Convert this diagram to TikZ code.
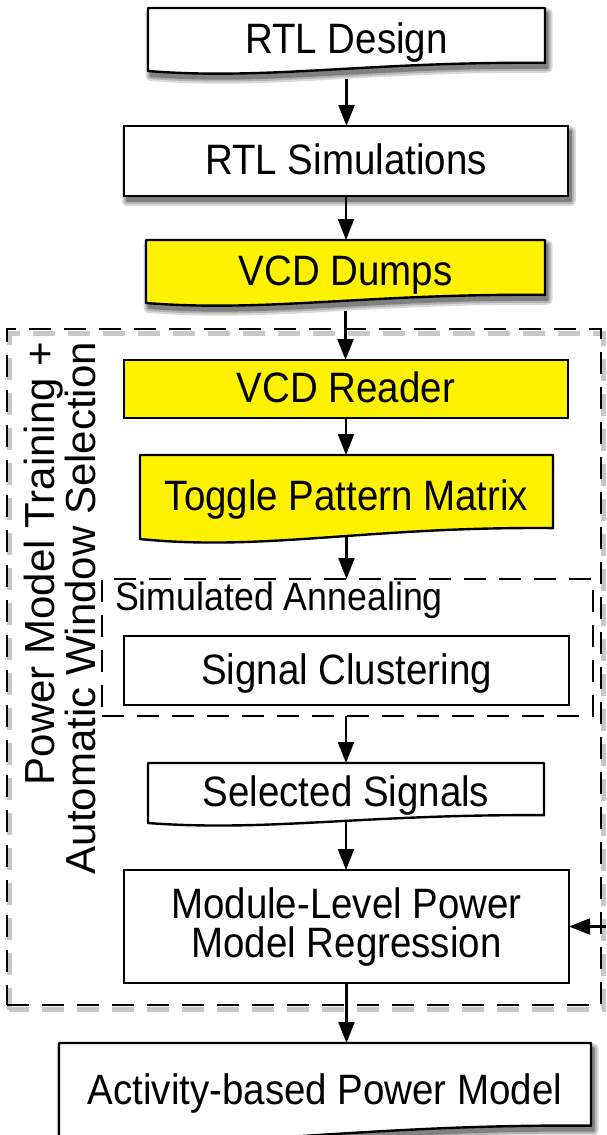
\documentclass[tikz,border=0pt]{standalone}
\usepackage{fontspec}
\setmainfont{Liberation Sans}[FakeStretch=0.905]
\newfontfamily\uprightsans{Liberation Sans}
\usetikzlibrary{arrows.meta,calc}

\pgfdeclarelayer{edges}
\pgfdeclarelayer{shapes}
\pgfsetlayers{edges,shapes,main}

\tikzset{
  every node/.style={inner sep=0pt, outer sep=0pt},
  lbl/.style={font=\fontsize{42.5}{39}\selectfont, text height=30.4pt, text depth=3pt},
  procbox/.style={rectangle, draw=black, line width=2.4pt, fill=white, lbl},
  docbox/.style={rectangle, lbl},
  docline/.style={draw=black, line width=2.4pt, line join=round},
  flow/.style={line width=2.2pt, -{Triangle[length=21pt,width=16pt]}},
  groupbox/.style={rectangle, draw=black, line width=2.6pt, dash pattern=on 22pt off 13pt},
  hilite/.style={fill=yellow},
  shadeA/.style={draw=black!15, fill=black!15, line width=10pt, line join=round},
  shadeB/.style={draw=black!30, fill=black!30, line width=6pt, line join=round},
  shadeC/.style={draw=black!50, fill=black!50, line width=2pt, line join=round}
}

% document symbol: flat top, wavy bottom edge; #3 offsets the whole outline
\newcommand\docoutline[3]{%
  \path[docline,#2] let \p1=([shift={#3}]#1.south west), \p2=([shift={#3}]#1.north east),
      \n1={\x2-\x1}, \n2={\y2-\y1} in
    (\x1,\y2) -- (\x2,\y2) -- (\x2,{\y1+0.13*\n2})
    .. controls ({\x1+0.55*\n1},{\y1+0.15*\n2}) and ({\x1+0.3*\n1},{\y1-0.15*\n2}) .. (\x1,\y1)
    -- cycle;}
\newcommand\boxoutline[3]{%
  \path[#2] ([shift={#3}]#1.south west) rectangle ([shift={#3}]#1.north east);}

% soft drop shadows, built from graded grey layers
\newcommand\docshadow[1]{%
  \docoutline{#1}{shadeA}{(2.5pt,-5pt)}%
  \docoutline{#1}{shadeB}{(2.5pt,-5pt)}%
  \docoutline{#1}{shadeC}{(2.5pt,-5pt)}}
\newcommand\boxshadow[1]{%
  \boxoutline{#1}{shadeA}{(2.5pt,-5pt)}%
  \boxoutline{#1}{shadeB}{(2.5pt,-5pt)}%
  \boxoutline{#1}{shadeC}{(2.5pt,-5pt)}}

\begin{document}
\begin{tikzpicture}[x=1pt, y=-1pt]
\useasboundingbox (0,0) rectangle (606,1135);
\begin{pgfonlayer}{edges}
  \fill[white] (0,0) rectangle (606,1135);
\end{pgfonlayer}

% process steps
\node[docbox, minimum width=397pt, minimum height=63pt] (rtld) at (346.5,39.5) {RTL Design};
\node[procbox, minimum width=444pt, minimum height=70pt] (rtls) at (346,161) {RTL Simulations};
\node[docbox, minimum width=399pt, minimum height=63pt] (vcdd) at (345.5,271.5) {VCD Dumps};

% training / window selection group
\node[groupbox, minimum width=594pt, minimum height=676pt] (outer) at (304,667) {};
\node[rotate=90, anchor=north east, align=right,
      font=\uprightsans\fontsize{42}{35}\selectfont] (grouplbl) at (24.5,342)
  {Power Model Training +\\Automatic Window Selection};

\node[procbox, hilite, minimum width=444pt, minimum height=58pt] (vcdr) at (346,389) {VCD Reader};
\node[docbox, minimum width=413pt, minimum height=84pt] (tpm) at (346.5,497) {Toggle Pattern Matrix};

\node[groupbox, minimum width=491pt, minimum height=137pt] (sa) at (347.5,647.5) {};
\node[anchor=base west, font=\fontsize{39.5}{39}\selectfont] (salbl) at (115,610) {Simulated Annealing};
\node[procbox, minimum width=445pt, minimum height=69pt] (sc) at (346.5,670.5) {Signal Clustering};

\node[docbox, minimum width=396pt, minimum height=60pt] (sel) at (346,793) {Selected Signals};
\node[procbox, minimum width=445pt, minimum height=113pt, align=center,
      text height=, text depth=] (mod) at (346.5,926.5) {Module-Level Power\\Model Regression};
\node[docbox, minimum width=532pt, minimum height=95pt] (act) at (325,1090.5) {Activity-based Power Model};

\coordinate (feed) at (606,926.5);

% connectors
\begin{pgfonlayer}{edges}
  \draw[groupbox, draw=black, opacity=.22, line width=5pt]
    ([shift={(2pt,-4.5pt)}]outer.south west) rectangle ([shift={(2pt,-4.5pt)}]outer.north east);
  \draw[flow] (rtld.center) -- (rtld.center |- rtls.north);
  \draw[flow] (vcdd.center) -- (vcdd.center |- vcdr.north);
  \draw[flow] (vcdr.center) -- (vcdr.center |- tpm.north);
  \draw[flow] (tpm.center) -- (tpm.center |- sa.north);
  \draw[flow] (sel.center |- sa.south) -- (sel.north);
  \draw[flow] (sel.center) -- (sel.center |- mod.north);
  \draw[flow] (mod.center) -- (mod.center |- act.north);
\end{pgfonlayer}

% shadows and document outlines
\begin{pgfonlayer}{shapes}
  \boxshadow{rtls}
  \docshadow{rtld}
  \docshadow{vcdd}
  \docshadow{act}
  \docoutline{rtld}{fill=white}{(0pt,0pt)}
  \docoutline{vcdd}{fill=yellow}{(0pt,0pt)}
  \docoutline{tpm}{fill=yellow}{(0pt,0pt)}
  \docoutline{sel}{fill=white}{(0pt,0pt)}
  \docoutline{act}{fill=white}{(0pt,0pt)}
\end{pgfonlayer}
\draw[flow] (rtls.south) -- (rtls.south |- vcdd.north);
\draw[flow] (feed) -- (mod.east);
\end{tikzpicture}
\end{document}
